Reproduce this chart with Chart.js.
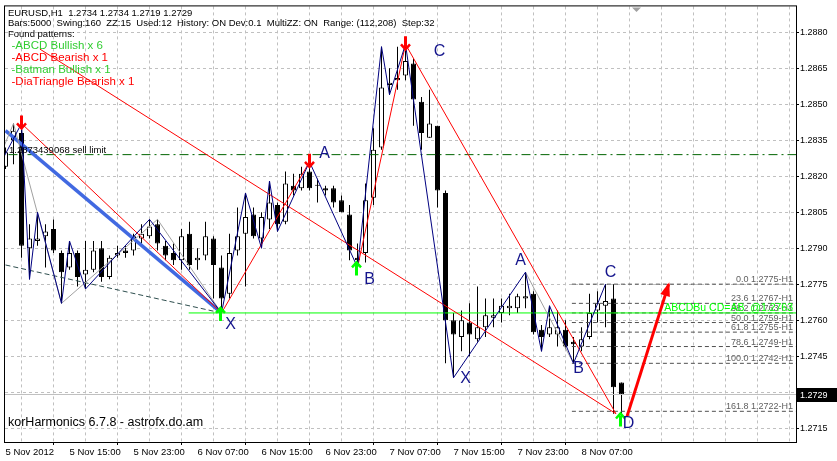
<!DOCTYPE html>
<html><head><meta charset="utf-8">
<script src="https://cdn.jsdelivr.net/npm/chart.js@4/dist/chart.umd.min.js"></script>
<style>html,body{margin:0;padding:0;background:#fff;overflow:hidden}#wrap{width:837px;height:461px;position:relative}</style>
</head><body><div id="wrap"><canvas id="c" width="837" height="461"></canvas></div>
<script>
// ---------- DATA ----------
const xTickLabels = ["5 Nov 2012","5 Nov 15:00","5 Nov 23:00","6 Nov 07:00","6 Nov 15:00","6 Nov 23:00","7 Nov 07:00","7 Nov 15:00","7 Nov 23:00","8 Nov 07:00"];
const yTickValues = [1.2715,1.2730,1.2745,1.2760,1.2775,1.2790,1.2805,1.2820,1.2835,1.2850,1.2865,1.2880];

const opens  = [1.2824,1.2835,1.2838,1.2790,1.2793,1.2795,1.2798,1.2788,1.2782,1.2788,1.2779,1.2781,1.2790,1.2778,1.2787,1.2789,1.2789,1.2794,1.2795,1.2800,
1.2791,1.2788,1.2785,1.2796,1.2785,1.2787,1.2794,1.2782,1.2771,1.2789,1.2796,1.2804,1.2794,1.2802,1.2808,1.2801,1.2816,1.2815,1.2822,1.2816,
1.2815,1.2815,1.2810,1.2804,1.2786,1.2788,1.2811,1.2832,1.2858,1.2860,1.2862,1.2867,1.2851,1.2836,1.2841,1.2813,1.2760,1.2753,1.2759,1.2752,
1.2757,1.2761,1.2763,1.2765,1.2765,1.2769,1.2771,1.2756,1.2754,1.2754,1.2756,1.2751,1.2749,1.2753,1.2764,1.2766,1.2769,1.2734];
const highs  = [1.2832,1.2842,1.2842,1.2800,1.2805,1.2800,1.2802,1.2789,1.2793,1.2789,1.2793,1.2793,1.2793,1.2787,1.2791,1.2791,1.2796,1.2800,1.2802,1.2802,
1.2793,1.2792,1.2798,1.2801,1.2790,1.2801,1.2795,1.2787,1.2796,1.2807,1.2813,1.2807,1.2805,1.2818,1.2809,1.2822,1.2821,1.2824,1.2826,1.2819,
1.2816,1.2816,1.2812,1.2808,1.2792,1.2817,1.2840,1.2874,1.2865,1.2874,1.2875,1.2869,1.2853,1.2856,1.2841,1.2814,1.2763,1.2764,1.2767,1.2774,
1.2769,1.2769,1.2769,1.2771,1.2771,1.2780,1.2772,1.2758,1.2766,1.2764,1.2760,1.2753,1.2757,1.2771,1.2772,1.2775,1.2775,1.2734];
const lows   = [1.2823,1.2825,1.2786,1.2777,1.2791,1.2782,1.2788,1.2767,1.2781,1.2774,1.2773,1.2780,1.2776,1.2777,1.2786,1.2786,1.2787,1.2792,1.2794,1.2789,
1.2785,1.2783,1.2781,1.2781,1.2781,1.2785,1.2769,1.2763,1.2769,1.2787,1.2774,1.2794,1.2790,1.2798,1.2797,1.2800,1.2812,1.2814,1.2814,1.2809,
1.2812,1.2807,1.2805,1.2785,1.2782,1.2784,1.2808,1.2831,1.2854,1.2856,1.2860,1.2841,1.2831,1.2836,1.2807,1.2742,1.2736,1.2747,1.2745,1.2751,
1.2753,1.2757,1.2759,1.2762,1.2763,1.2765,1.2754,1.2747,1.2753,1.2749,1.2748,1.2742,1.2747,1.2752,1.2759,1.2757,1.2721,1.2719];
const closes = [1.2830,1.2839,1.2791,1.2794,1.2794,1.2797,1.2789,1.2780,1.2788,1.2778,1.2781,1.2789,1.2778,1.2786,1.2788,1.2788,1.2795,1.2796,1.2799,1.2792,
1.2787,1.2785,1.2795,1.2783,1.2786,1.2795,1.2783,1.2769,1.2788,1.2795,1.2803,1.2795,1.2803,1.2809,1.2800,1.2817,1.2814,1.2821,1.2815,1.2816,
1.2814,1.2809,1.2805,1.2789,1.2785,1.2810,1.2831,1.2857,1.2859,1.2861,1.2868,1.2852,1.2838,1.2842,1.2814,1.2760,1.2754,1.2760,1.2754,1.2757,
1.2762,1.2762,1.2766,1.2766,1.2770,1.2770,1.2755,1.2753,1.2757,1.2757,1.2749,1.2750,1.2752,1.2763,1.2767,1.2768,1.2732,1.2729];

// zigzag swing points (bar index, price)
const navyZigBars   = [-1,2,3,4,7,8,10,18,27,30,32,33,34,38,44,47,48,50,56,65,67,68,71,75];
const navyZigPrices = [1.2823,1.2842,1.2777,1.2805,1.2767,1.2793,1.2773,1.2802,1.2763,1.2813,1.2790,1.2818,1.2797,1.2826,1.2782,1.2874,1.2854,1.2875,1.2736,1.2780,1.2747,1.2766,1.2742,1.2775];
const grayZigBars   = [-1,1,7,19,27];
const grayZigPrices = [1.2826,1.2842,1.2767,1.2802,1.2763];
const grayZig2Bars  = [65,71];
const grayZig2Prices= [1.2780,1.2742];

// red pattern lines
const redLine1Bars = [2,27],     redLine1Prices = [1.2842,1.2763];
const redLine2Bars = [4.3,76.3], redLine2Prices = [1.2873,1.2721];
const redLine3Bars = [27,38],    redLine3Prices = [1.2763,1.2826];
const redLine4Bars = [44,50],    redLine4Prices = [1.2782,1.2875];
const redLine5Bars = [50,76.3],  redLine5Prices = [1.2875,1.2721];
const blueThickBars = [0,27],    blueThickPrices = [1.2839,1.2763];
const slateDashBars = [0,27],    slateDashPrices = [1.2783,1.2763];
const targetArrowBars = [77.7,82.9], targetArrowPrices = [1.2720,1.2775];

// horizontal levels
const sellLimitPrice = 1.2829;
const sellLimitText = "1.2873439068 sell limit";
const abcdLinePrice = 1.2763;
const abcdLineStartBar = 22.9;
const abcdLabel = "ABCDBu CD=AB  @1.2763";
const bidPrice = 1.2729;
const fibLevels = [0.0,23.6,38.2,50.0,61.8,78.6,100.0,161.8];
const fibPrices = [1.2775,1.2767,1.2763,1.2759,1.2755,1.2749,1.2742,1.2722];
const fibStartBar = 70.8;

// pattern points
const pointNames  = ['X','A','B','C','X','A','B','C','D'];
const pointBars   = [27,38,44,50,56,65,71,75,77];
const pointPrices = [1.2763,1.2826,1.2782,1.2875,1.2736,1.2780,1.2742,1.2775,1.2719];
const downArrowBars = [2,38,50];
const upArrowBars   = [27,44,77];

const infoLines = [
  "EURUSD,H1  1.2734 1.2734 1.2719 1.2729",
  "Bars:5000  Swing:160  ZZ:15  Used:12  History: ON Dev:0.1  MultiZZ: ON  Range: (112,208)  Step:32",
  "Found patterns:"
];
const patternTexts  = ["-ABCD Bullish x 6","-ABCD Bearish x 1","-Batman Bullish x 1","-DiaTriangle Bearish x 1"];
const patternColors = ["#32CD32","#FF0000","#32CD32","#FF0000"];
const footerText = "korHarmonics 6.7.8 - astrofx.do.am";

// ---------- CHART ----------
const FONT = '"Liberation Sans", Arial, sans-serif';
const pts = (bs, ps) => bs.map((b, i) => ({x: b, y: ps[i]}));
const lineDs = (data, color, width, dash, order) => ({
  type: 'line', data, borderColor: color, borderWidth: width, borderDash: dash || [],
  pointRadius: 0, fill: false, tension: 0, order, clip: 0
});

const datasets = [
  { type:'bar', data: lows.map((l,i)=>({x:i, y:[l, highs[i]]})), backgroundColor:'#000', borderWidth:0,
    barThickness:1, grouped:false, inflateAmount:0, order:20, clip:0 },
  { type:'bar', data: opens.map((o,i)=>({x:i, y:[o, closes[i]]})),
    backgroundColor: opens.map((o,i)=> closes[i] >= o ? '#fff' : '#000'),
    borderColor:'#000', borderWidth:1, borderSkipped:false, minBarLength:1,
    barThickness:5, grouped:false, inflateAmount:0, order:19, clip:0 },
  lineDs([{x:-2,y:bidPrice},{x:120,y:bidPrice}], '#C0C0C0', 1, [], 18),
  lineDs([{x:-2,y:sellLimitPrice},{x:120,y:sellLimitPrice}], '#006400', 1, [9,4,2,4], 9),
  lineDs(pts(slateDashBars, slateDashPrices), '#2F4F4F', 1, [5,3], 9),
  lineDs(pts(blueThickBars, blueThickPrices), '#4169E1', 3.5, [], 8),
  ...fibPrices.map(p => lineDs([{x:fibStartBar,y:p},{x:120,y:p}], '#505050', 1, [4,3], 7)),
  lineDs([{x:abcdLineStartBar,y:abcdLinePrice},{x:120,y:abcdLinePrice}], '#00FF00', 1, [], 6),
  lineDs(pts(grayZigBars, grayZigPrices), '#A0A0A0', 1, [], 5),
  lineDs(pts(grayZig2Bars, grayZig2Prices), '#A0A0A0', 1, [], 5),
  lineDs(pts(redLine1Bars, redLine1Prices), '#FF0000', 1, [], 4),
  lineDs(pts(redLine2Bars, redLine2Prices), '#FF0000', 1, [], 4),
  lineDs(pts(redLine3Bars, redLine3Prices), '#FF0000', 1, [], 4),
  lineDs(pts(redLine4Bars, redLine4Prices), '#FF0000', 1, [], 4),
  lineDs(pts(redLine5Bars, redLine5Prices), '#FF0000', 1, [], 4),
  lineDs(pts(navyZigBars, navyZigPrices), '#000080', 1, [], 3),
  lineDs(pts(targetArrowBars, targetArrowPrices), '#FF0000', 3, [], 2)
];

function arrowGlyph(ctx, px, tipY, dir, color){ // dir 1 = pointing down, -1 = pointing up
  ctx.save();
  ctx.strokeStyle = color; ctx.lineCap = 'butt'; ctx.lineJoin = 'miter';
  ctx.lineWidth = 3;
  ctx.beginPath(); ctx.moveTo(px, tipY - dir*13); ctx.lineTo(px, tipY - dir*2); ctx.stroke();
  ctx.lineWidth = 2.5;
  ctx.beginPath(); ctx.moveTo(px-4.5, tipY - dir*5); ctx.lineTo(px, tipY); ctx.lineTo(px+4.5, tipY - dir*5); ctx.stroke();
  ctx.restore();
}

const letterOffsets = [[9,12],[15,-8],[12,12],[34,7],[12,1],[-5,-12],[5,5],[5,-12],[7,5]];

const overlay = {
  id: 'overlay',
  afterDatasetsDraw(chart){
    const {ctx, chartArea:a, scales:{x, y}} = chart;
    ctx.save();
    ctx.beginPath(); ctx.rect(a.left, a.top, a.right-a.left, a.bottom-a.top); ctx.clip();

    // sell limit text
    ctx.font = '9.5px ' + FONT; ctx.fillStyle = '#000'; ctx.textAlign = 'left'; ctx.textBaseline = 'alphabetic';
    ctx.fillText(sellLimitText, 9, y.getPixelForValue(sellLimitPrice) - 2);

    // fib labels
    ctx.font = '9px ' + FONT; ctx.fillStyle = '#606060'; ctx.textAlign = 'right';
    fibLevels.forEach((l, i) => {
      ctx.fillText(l.toFixed(1) + ' ' + fibPrices[i].toFixed(4) + '-H1', a.right - 3, y.getPixelForValue(fibPrices[i]) - 2);
    });
    ctx.font = '10.5px ' + FONT; ctx.fillStyle = '#00FF00';
    ctx.fillText(abcdLabel, a.right - 3, y.getPixelForValue(abcdLinePrice) - 2);

    // arrows
    downArrowBars.forEach(b => arrowGlyph(ctx, x.getPixelForValue(b), y.getPixelForValue(highs[b]) + 5, 1, '#FF0000'));
    upArrowBars.forEach(b => arrowGlyph(ctx, x.getPixelForValue(b) - 1, y.getPixelForValue(lows[b]) - 5, -1, '#00FF00'));

    // target arrow head
    const x1 = x.getPixelForValue(targetArrowBars[0]), y1 = y.getPixelForValue(targetArrowPrices[0]);
    const x2 = x.getPixelForValue(targetArrowBars[1]), y2 = y.getPixelForValue(targetArrowPrices[1]);
    const ang = Math.atan2(y2-y1, x2-x1);
    ctx.fillStyle = '#FF0000';
    ctx.beginPath();
    ctx.moveTo(x2 + Math.cos(ang)*2, y2 + Math.sin(ang)*2);
    ctx.lineTo(x2 - Math.cos(ang)*12 + Math.sin(ang)*5, y2 - Math.sin(ang)*12 - Math.cos(ang)*5);
    ctx.lineTo(x2 - Math.cos(ang)*12 - Math.sin(ang)*5, y2 - Math.sin(ang)*12 + Math.cos(ang)*5);
    ctx.closePath(); ctx.fill();

    // letters
    ctx.font = '16px ' + FONT; ctx.fillStyle = '#14148C'; ctx.textAlign = 'center'; ctx.textBaseline = 'middle';
    pointNames.forEach((n, i) => {
      ctx.fillText(n, x.getPixelForValue(pointBars[i]) + letterOffsets[i][0], y.getPixelForValue(pointPrices[i]) + letterOffsets[i][1]);
    });

    // info texts
    ctx.textAlign = 'left'; ctx.textBaseline = 'middle';
    ctx.font = '9.5px ' + FONT; ctx.fillStyle = '#000';
    infoLines.forEach((t, i) => ctx.fillText(t, a.left + 3, 13 + i*10.8));
    ctx.font = '11.5px ' + FONT;
    patternTexts.forEach((t, i) => { ctx.fillStyle = patternColors[i]; ctx.fillText(t, a.left + 6.5, 45.5 + i*12.2); });
    ctx.font = '12.5px ' + FONT; ctx.fillStyle = '#000';
    ctx.fillText(footerText, a.left + 3, 423);
    ctx.restore();
  },
  afterDraw(chart){
    const {ctx, chartArea:a, scales:{y}} = chart;
    ctx.save();
    // price box
    const py = Math.round(y.getPixelForValue(bidPrice));
    ctx.fillStyle = '#000'; ctx.fillRect(a.right + 1, py - 7, 41, 14);
    ctx.fillStyle = '#fff'; ctx.font = '9px ' + FONT; ctx.textAlign = 'left'; ctx.textBaseline = 'middle';
    ctx.fillText(bidPrice.toFixed(4), a.right + 4, py + 0.5);
    // frame
    ctx.strokeStyle = '#000'; ctx.lineWidth = 1;
    ctx.strokeRect(a.left - 0.5, a.top - 0.5, a.right - a.left + 1, a.bottom - a.top + 1);
    // chart shift marker
    ctx.fillStyle = '#A0A0A0';
    ctx.beginPath(); ctx.moveTo(632, a.top + 1); ctx.lineTo(641, a.top + 1); ctx.lineTo(636.5, a.top + 5.5); ctx.closePath(); ctx.fill();
    ctx.restore();
  }
};

new Chart(document.getElementById('c'), {
  type: 'bar',
  data: { datasets },
  options: {
    responsive: false, animation: false, events: [],
    devicePixelRatio: 1,
    layout: { padding: { left: 5, top: 4, right: 0, bottom: 0 } },
    plugins: { legend: { display: false }, tooltip: { enabled: false }, title: { display: false } },
    scales: {
      x: {
        type: 'linear', offset: false, min: -0.0625, max: 98.8125,
        afterBuildTicks: s => { const t = []; for (let v = 0; v <= 96; v += 4) t.push({value: v}); s.ticks = t; },
        afterFit: s => { s.height = 19; },
        ticks: {
          autoSkip: false, maxRotation: 0, minRotation: 0, align: 'start', padding: 2,
          font: { family: FONT, size: 9.5 }, color: '#000',
          callback: v => (v % 8 === 0 && xTickLabels[v / 8]) ? xTickLabels[v / 8] : ''
        },
        grid: { color: '#C0C0C0', lineWidth: 1, tickLength: 3,
                tickColor: c => (c.tick && c.tick.value % 8 === 0 && c.tick.value <= 72) ? '#000' : 'rgba(0,0,0,0)' },
        border: { display: true, color: '#000', width: 1, dash: [3,3] }
      },
      y: {
        type: 'linear', position: 'right', beginAtZero: false, min: 1.27092, max: 1.28908,
        afterBuildTicks: s => { s.ticks = yTickValues.map(v => ({value: v})); },
        afterFit: s => { s.width = 41; },
        ticks: { font: { family: FONT, size: 9 }, color: '#000', padding: 1, callback: v => v.toFixed(4) },
        grid: { color: '#C0C0C0', lineWidth: 1, tickLength: 3, tickColor: '#000' },
        border: { display: true, color: '#000', width: 1, dash: [3,3] }
      }
    }
  },
  plugins: [overlay]
});
</script>
</body></html>
